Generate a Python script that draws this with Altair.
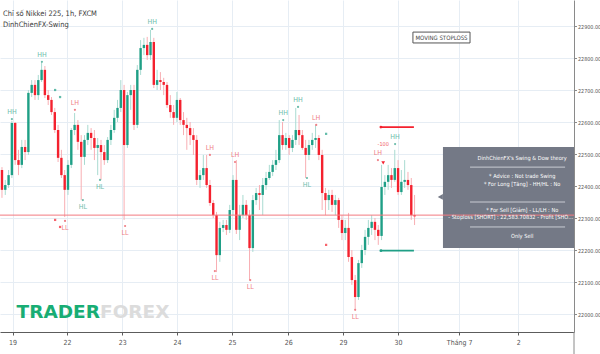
import altair as alt
import pandas as pd

# ---------------- data ----------------
opens = [22450, 22388, 22403, 22434, 22597, 22481, 22466, 22522, 22506, 22691,
         22716, 22684, 22731, 22763, 22684, 22669, 22631, 22575, 22488, 22434,
         22388, 22466, 22575, 22591, 22538, 22491, 22544, 22566, 22550, 22519,
         22528, 22506, 22481, 22544, 22575, 22613, 22644, 22700, 22528, 22684,
         22700, 22591, 22763, 22831, 22841, 22809, 22850, 22716, 22731, 22725,
         22716, 22653, 22631, 22613, 22669, 22606, 22591, 22581, 22559, 22544,
         22419, 22434, 22456, 22403, 22347, 22309, 22184, 22269, 22278, 22263,
         22325, 22419, 22263, 22309, 22341, 22309, 22206, 22356, 22378, 22372,
         22403, 22425, 22444, 22466, 22481, 22559, 22528, 22550, 22519, 22544,
         22575, 22559, 22519, 22497, 22528, 22544, 22550, 22497, 22378, 22356,
         22372, 22341, 22356, 22294, 22253, 22269, 22178, 22106, 22053, 22159,
         22200, 22241, 22269, 22288, 22263, 22244, 22397, 22413, 22434, 22419,
         22456, 22381, 22413, 22419, 22403, 22309]
closes = [22388, 22403, 22434, 22597, 22481, 22466, 22522, 22506, 22691, 22716,
          22684, 22731, 22763, 22684, 22669, 22631, 22575, 22488, 22434, 22388,
          22466, 22575, 22591, 22538, 22491, 22544, 22566, 22550, 22519, 22528,
          22506, 22481, 22544, 22575, 22613, 22644, 22700, 22528, 22684, 22700,
          22591, 22763, 22831, 22841, 22809, 22850, 22716, 22731, 22725, 22716,
          22653, 22631, 22613, 22669, 22606, 22591, 22581, 22559, 22544, 22419,
          22434, 22456, 22403, 22347, 22309, 22184, 22269, 22278, 22263, 22325,
          22419, 22263, 22309, 22341, 22309, 22206, 22356, 22378, 22372, 22403,
          22425, 22444, 22466, 22481, 22559, 22528, 22550, 22519, 22544, 22575,
          22559, 22519, 22497, 22528, 22544, 22550, 22497, 22378, 22356, 22372,
          22341, 22356, 22294, 22253, 22269, 22178, 22106, 22053, 22159, 22200,
          22241, 22269, 22288, 22263, 22244, 22397, 22413, 22434, 22419, 22456,
          22381, 22413, 22419, 22403, 22309, 22305]
highs = [22459, 22419, 22450, 22603, 22600, 22513, 22544, 22544, 22700, 22731,
         22731, 22747, 22788, 22775, 22700, 22678, 22644, 22591, 22513, 22450,
         22481, 22581, 22628, 22606, 22559, 22559, 22591, 22581, 22575, 22550,
         22544, 22528, 22553, 22591, 22638, 22669, 22731, 22716, 22694, 22716,
         22716, 22778, 22856, 22863, 22866, 22888, 22863, 22763, 22756, 22738,
         22725, 22684, 22653, 22694, 22675, 22631, 22613, 22600, 22581, 22559,
         22450, 22497, 22497, 22419, 22356, 22319, 22288, 22294, 22294, 22341,
         22434, 22481, 22341, 22372, 22356, 22325, 22372, 22394, 22403, 22425,
         22444, 22466, 22481, 22513, 22606, 22600, 22566, 22559, 22559, 22644,
         22622, 22575, 22544, 22544, 22566, 22591, 22559, 22513, 22394, 22388,
         22388, 22372, 22363, 22309, 22294, 22316, 22200, 22122, 22169, 22216,
         22263, 22294, 22309, 22300, 22278, 22466, 22434, 22466, 22456, 22513,
         22481, 22450, 22481, 22444, 22425, 22372]
lows = [22363, 22372, 22394, 22425, 22466, 22434, 22456, 22481, 22497, 22678,
        22669, 22669, 22725, 22675, 22653, 22622, 22566, 22475, 22425, 22303,
        22372, 22456, 22559, 22513, 22356, 22466, 22528, 22513, 22481, 22434,
        22419, 22466, 22472, 22528, 22566, 22600, 22631, 22294, 22519, 22638,
        22575, 22581, 22747, 22809, 22794, 22794, 22706, 22700, 22700, 22684,
        22644, 22613, 22591, 22600, 22591, 22559, 22513, 22528, 22497, 22403,
        22394, 22419, 22394, 22338, 22300, 22131, 22163, 22256, 22247, 22253,
        22309, 22250, 22231, 22300, 22294, 22106, 22194, 22341, 22325, 22309,
        22388, 22419, 22431, 22450, 22472, 22513, 22513, 22497, 22506, 22528,
        22528, 22513, 22425, 22481, 22513, 22519, 22481, 22325, 22309, 22325,
        22319, 22309, 22269, 22231, 22231, 22163, 22091, 22013, 22044, 22144,
        22184, 22216, 22247, 22231, 22216, 22231, 22372, 22388, 22394, 22413,
        22372, 22372, 22394, 22388, 22294, 22278]

day_ticks = [3.2, 19.7, 36.4, 53.0, 69.7, 86.7, 103.3, 120.0, 138.5, 156.4]
day_labels = ["19", "22", "23", "24", "25", "26", "29", "30", "Tháng 7", "2"]
price_ticks = [22000, 22100, 22200, 22300, 22400, 22500, 22600, 22700, 22800, 22900]

piv_text = ["HH", "HH", "HH", "LH", "HL", "HL", "LL", "LL", "LH", "LH",
            "LL", "LL", "HH", "HH", "LH", "HL", "LL", "LH", "HH"]
piv_bar = [3.0, 12.1, 45.5, 22.1, 24.5, 29.7, 19.1, 37.3, 63.0, 70.6,
           64.5, 75.2, 85.2, 89.7, 95.2, 92.4, 107.0, 113.9, 119.1]
piv_price = [22609, 22788, 22891, 22638, 22356, 22419, 22291, 22275, 22497, 22475,
             22134, 22106, 22606, 22647, 22591, 22425, 22013, 22481, 22531]

mark_bar_pos = [16.1, 17.6, 16.1, 17.6, 98.2, 98.2]
mark_price = [22700, 22678, 22294, 22272, 22563, 22216]
mark_kind = ["up", "up", "down", "down", "up", "down"]

current_price = 22309
stoploss = 22584
profit = 22198
sl_start, sl_end = 114.8, 124.8

title_line1 = "Chỉ số Nikkei 225, 1h, FXCM"
title_line2 = "DinhChienFX-Swing"
moving_label = "MOVING STOPLOSS"
info_lines = ["DinhChienFX's Swing & Dow theory", "* Advice : Not trade Swing",
              "* For Long [Tăng] - HH/HL : No", "* For Sell [Giảm] - LL/LH : No",
              "Only Sell"]
info_prices = [22488, 22431, 22406, 22325, 22244]
info_sl_line = "- Stoploss [SHORT] : 22,583.70832 - Profit [SHORT] : 22,198.37"
info_sl_price = 22303
sep_prices = [22459, 22350, 22272]

# ---------------- styling ----------------
FONT = "DejaVu Sans Condensed, Liberation Sans Narrow, Roboto Condensed, DejaVu Sans, sans-serif"
UP, DN = "#1f9f86", "#f4212e"
UP_PALE, DN_PALE = "#a9dbd1", "#f8aeb3"
BOX = "#6f7582"

xs = alt.Scale(domain=[-0.6, 173.3], nice=False, zero=False)
ys = alt.Scale(domain=[21943.75, 22981.25], nice=False, zero=False)

label_expr = " : ".join(f"datum.value == {v} ? '{t}'" for v, t in zip(day_ticks, day_labels)) + " : ''"

x_axis = alt.Axis(values=day_ticks, labelExpr=label_expr, grid=True, gridColor="#e6edf4",
                  domainColor="#5c5c5c", tickColor="#5c5c5c", tickSize=3, labelFontSize=7,
                  labelColor="#555555", labelPadding=3, title=None, labelFont=FONT,
                  labelFlush=False, labelOverlap=False)
y_axis = alt.Axis(orient="right", values=price_ticks, format=".2f", grid=True,
                  gridColor="#e6edf4", domainColor="#8a8a8a", tickColor="#8a8a8a",
                  tickSize=2.5, labelFontSize=5.4, labelColor="#555555", labelPadding=1,
                  title=None, labelFont=FONT, labelFlush=False, labelOverlap=False)


def X(field):
    return alt.X(field, type="quantitative", scale=xs, axis=x_axis)


def Y(field):
    return alt.Y(field, type="quantitative", scale=ys, axis=y_axis)


df = pd.DataFrame({"i": list(range(len(closes))), "o": opens, "h": highs,
                   "l": lows, "c": closes})
up_cond = "datum.c >= datum.o"

wick = alt.Chart(df).mark_rule(strokeWidth=1).encode(
    x=X("i"), y=Y("l"), y2="h:Q",
    color=alt.condition(up_cond, alt.value(UP_PALE), alt.value(DN_PALE)),
)
body = alt.Chart(df).mark_rule(strokeWidth=2.4).encode(
    x=X("i"), y=Y("o"), y2="c:Q",
    color=alt.condition(up_cond, alt.value(UP), alt.value(DN)),
)

piv = pd.DataFrame({"t": piv_text, "i": piv_bar, "p": piv_price})
piv_color = alt.condition("slice(datum.t,0,1) == 'H'", alt.value("#6cbcab"), alt.value("#ef8087"))
piv_dots = alt.Chart(piv).mark_circle(size=5, opacity=1).encode(
    x=X("i"), y=Y("p"), color=piv_color)
piv_top = alt.Chart(piv).transform_filter("slice(datum.t,1,2) == 'H'").mark_text(
    fontSize=7, font=FONT, dy=-7).encode(x=X("i"), y=Y("p"), text="t:N", color=piv_color)
piv_bot = alt.Chart(piv).transform_filter("slice(datum.t,1,2) == 'L'").mark_text(
    fontSize=7, font=FONT, dy=7).encode(x=X("i"), y=Y("p"), text="t:N", color=piv_color)

ms = pd.DataFrame({"i": mark_bar_pos, "p": mark_price, "k": mark_kind})
ms_dots = alt.Chart(ms).mark_square(size=5).encode(
    x=X("i"), y=Y("p"),
    color=alt.condition("datum.k == 'up'", alt.value(UP), alt.value(DN)))

lvl = pd.DataFrame({"a": [sl_start, sl_start], "b": [sl_end, sl_end],
                    "p": [stoploss, profit], "k": ["sl", "tp"]})
lvl_col = alt.condition("datum.k == 'sl'", alt.value(DN), alt.value(UP))
lvl_lines = alt.Chart(lvl).mark_rule(strokeWidth=1.6).encode(
    x=X("a"), x2="b:Q", y=Y("p"), color=lvl_col)
lvl_dots = alt.Chart(lvl).mark_circle(size=8, opacity=1).encode(
    x=X("a"), y=Y("p"), color=lvl_col)

sig = pd.DataFrame({"i": [115.5], "p": [22472], "t": ["-100"], "p2": [22531]})
sig_arrow = alt.Chart(sig).mark_point(shape="triangle-down", filled=True, size=14,
                                      color=DN, opacity=1).encode(x=X("i"), y=Y("p"))
sig_text = alt.Chart(sig).mark_text(fontSize=5.5, font=FONT, color="#f06068").encode(
    x=X("i"), y=Y("p2"), text="t:N")

cur = pd.DataFrame({"p": [current_price]})
cur_line = alt.Chart(cur).mark_rule(strokeWidth=1, color="#f27a80").encode(y=Y("p"))

# info box
box_df = pd.DataFrame({"a": [133.6], "b": [173.3], "p1": [22206], "p2": [22522],
                       "tip": [132.8], "tp": [22366]})
box = alt.Chart(box_df).mark_rect(color=BOX, opacity=0.97).encode(
    x=X("a"), x2="b:Q", y=Y("p1"), y2="p2:Q")
box_tip = alt.Chart(box_df).mark_point(shape="triangle-left", filled=True, size=35,
                                       color=BOX, opacity=0.97).encode(x=X("tip"), y=Y("tp"))
info_df = pd.DataFrame({"t": info_lines, "p": info_prices, "i": [157.6] * len(info_lines)})
info_txt = alt.Chart(info_df).mark_text(fontSize=5.6, font=FONT, color="white").encode(
    x=X("i"), y=Y("p"), text="t:N")
sl_df = pd.DataFrame({"t": [info_sl_line], "p": [info_sl_price], "i": [135.2]})
sl_txt = alt.Chart(sl_df).mark_text(fontSize=5.6, font=FONT, color="white", align="left",
                                     limit=125, ellipsis="").encode(
    x=X("i"), y=Y("p"), text="t:N")
sep_df = pd.DataFrame({"p": sep_prices, "a": [141.8] * 3, "b": [170.6] * 3})
seps = alt.Chart(sep_df).mark_rule(strokeWidth=1, color="#c9ccd3").encode(
    x=X("a"), x2="b:Q", y=Y("p"))

# moving stoploss badge
mv_df = pd.DataFrame({"a": [124.5], "b": [141.8], "p1": [22847], "p2": [22881],
                      "i": [133.15], "p": [22864], "t": [moving_label]})
mv_box = alt.Chart(mv_df).mark_rect(fill="white", stroke="#555555", strokeWidth=1).encode(
    x=X("a"), x2="b:Q", y=Y("p1"), y2="p2:Q")
mv_txt = alt.Chart(mv_df).mark_text(fontSize=6, font=FONT, color="#444444").encode(
    x=X("i"), y=Y("p"), text="t:N")

one = pd.DataFrame({"z": [0]})
t1 = alt.Chart(one).mark_text(align="left", baseline="middle", fontSize=7.5, font=FONT,
                              color="#3c3c3c").encode(
    x=alt.value(3), y=alt.value(14), text=alt.value(title_line1))
t2 = alt.Chart(one).mark_text(align="left", baseline="middle", fontSize=7.5, font=FONT,
                              color="#3c3c3c").encode(
    x=alt.value(3), y=alt.value(25), text=alt.value(title_line2))
logo1 = alt.Chart(one).mark_text(align="right", baseline="alphabetic", fontSize=18.5,
                                 font="DejaVu Sans", fontWeight="bold", color="#18ad74").encode(
    x=alt.value(100), y=alt.value(318), text=alt.value("TRADER"))
logo2 = alt.Chart(one).mark_text(align="left", baseline="alphabetic", fontSize=18.5,
                                 font="DejaVu Sans", fontWeight="bold", color="#dcdcdc").encode(
    x=alt.value(100), y=alt.value(318), text=alt.value("FOREX"))
axis_ext = alt.Chart(one).mark_rule(color="#8a8a8a", strokeWidth=1).encode(
    x=alt.value(574), y=alt.value(332), y2=alt.value(354))

chart = alt.layer(
    wick, body, logo1, logo2, piv_dots, piv_top, piv_bot, ms_dots, lvl_lines, lvl_dots,
    sig_arrow, sig_text, box, box_tip, cur_line, seps, info_txt, sl_txt,
    mv_box, mv_txt, t1, t2, axis_ext,
).properties(
    width=574, height=332,
    padding={"left": 0, "top": 0, "right": 26, "bottom": 22},
    autosize=alt.AutoSizeParams(type="none"),
    background="white",
).configure_view(stroke=None)

chart.save("out.html", embed_options={"renderer": "svg", "actions": False})
